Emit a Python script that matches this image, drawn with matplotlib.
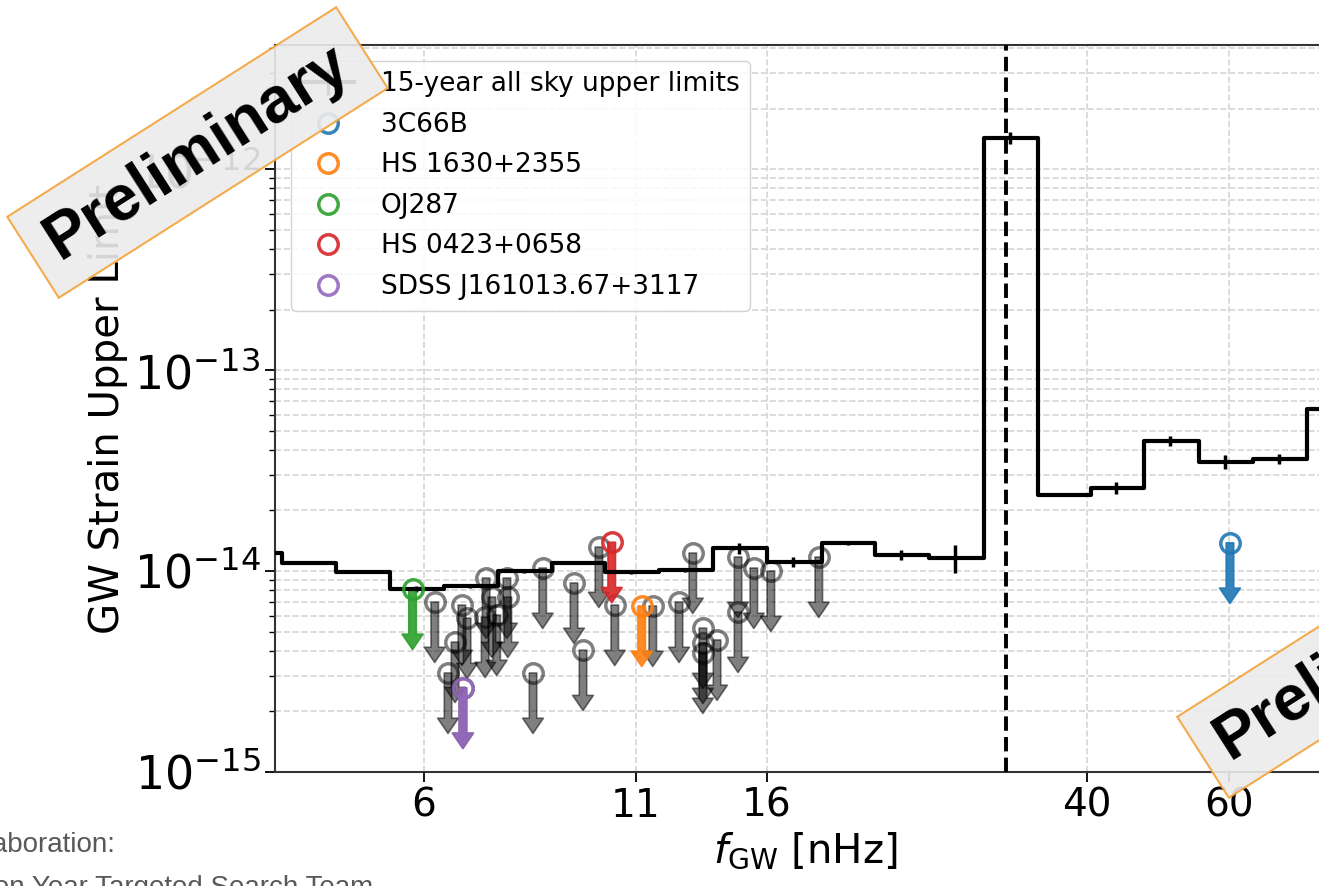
import numpy as np
import matplotlib.pyplot as plt
from matplotlib.patches import Rectangle
from matplotlib.transforms import IdentityTransform
from matplotlib.ticker import NullLocator

# all sky upper limit per frequency bin (bin centres, nHz)
bin_f = [3.69, 4.31, 5.03, 5.87, 6.84, 8.00, 9.32, 10.85, 12.66, 14.80, 17.27,
         20.16, 23.52, 27.44, 32.08, 37.37, 43.49, 50.76, 59.33, 69.23, 80.8, 94.3]
bin_h = [1.23e-14, 1.10e-14, 9.9e-15, 8.13e-15, 8.42e-15, 1.00e-14, 1.10e-14,
         9.9e-15, 1.01e-14, 1.30e-14, 1.11e-14, 1.38e-14, 1.20e-14, 1.16e-14,
         1.43e-12, 2.40e-14, 2.59e-14, 4.45e-14, 3.48e-14, 3.62e-14, 6.40e-14, 6.40e-14]
bin_err = [0, 0.02, 0.01, 0.035, 0.02, 0.02, 0.01, 0.02, 0.02, 0.06, 0.06,
           0.02, 0.06, 0.16, 0.07, 0.02, 0.07, 0.06, 0.08, 0.06, 0.06, 0.06]  # fraction of value

# targeted upper limits (grey)
gray_f = [6.19, 6.69, 6.79, 6.56, 6.43, 7.17, 7.61, 7.63, 7.15, 7.39, 7.29, 8.43, 8.20,
          9.22, 9.46, 9.90, 10.36, 11.55, 12.45, 12.95, 13.33, 13.33, 13.33, 13.88,
          14.74, 14.74, 15.42, 16.19, 18.57, 6.71]
gray_h = [7.01e-15, 6.77e-15, 5.83e-15, 4.43e-15, 3.11e-15, 9.23e-15, 9.23e-15, 7.42e-15,
          5.90e-15, 6.04e-15, 7.42e-15, 1.035e-14, 3.11e-15, 8.72e-15, 4.04e-15, 1.316e-14,
          6.77e-15, 6.70e-15, 7.01e-15, 1.229e-14, 5.20e-15, 4.38e-15, 3.91e-15, 4.54e-15,
          1.174e-14, 6.25e-15, 1.035e-14, 1.0e-14, 1.174e-14, 2.62e-15]

# named sources
src_names = ['3C66B', 'HS 1630+2355', 'OJ287', 'HS 0423+0658', 'SDSS J161013.67+3117']
src_f = [60.2, 11.19, 5.81, 10.27, 6.71]
src_h = [1.38e-14, 6.70e-15, 8.14e-15, 1.39e-14, 2.62e-15]
src_colors = ['tab:blue', 'tab:orange', 'tab:green', 'tab:red', 'tab:purple']

xtick_vals = [6, 11, 16, 40, 60]
f_year = 31.7  # 1/yr in nHz

fig = plt.figure(figsize=(13.19, 8.86), dpi=100)
ax = fig.add_axes([275 / 1319, 114 / 886, 1060 / 1319, 727 / 886])
ax.set_xscale('log')
ax.set_yscale('log')


def down_arrow(x, y, c, a):
    ax.annotate('', xy=(x, y / 2), xytext=(x, y),
                arrowprops=dict(arrowstyle='simple,head_length=0.55,head_width=0.75,tail_width=0.27',
                                mutation_scale=20, color=c, alpha=a, lw=1.2,
                                shrinkA=0, shrinkB=0))


# grey targeted limits
ax.plot(gray_f, gray_h, 'o', mfc='none', mec='k', alpha=0.5, ms=14, mew=2.5, zorder=2)
for x, y in zip(gray_f, gray_h):
    down_arrow(x, y, 'k', 0.5)

# all sky limits
eb = ax.errorbar(bin_f, bin_h, yerr=np.array(bin_err) * np.array(bin_h), fmt='-', color='k',
                 drawstyle='steps-mid', lw=3, elinewidth=2.5, capsize=0,
                 label='15-year all sky upper limits', zorder=3)

handles = [eb]
for name, x, y, c in zip(src_names, src_f, src_h, src_colors):
    h, = ax.plot([x], [y], 'o', mfc='none', mec=c, alpha=0.9, ms=14, mew=2.5, label=name, zorder=4)
    handles.append(h)
    down_arrow(x, y, c, 0.9)

ax.axvline(f_year, ls='--', color='k', lw=2.8, zorder=3)

ax.set_xlim(3.92, 81.3)
ax.set_ylim(1e-15, 4.14e-12)
ax.set_xticks(xtick_vals)
ax.set_xticklabels([str(v) for v in xtick_vals])
ax.xaxis.set_minor_locator(NullLocator())

ax.grid(True, which='both', axis='y', ls='--', color='#d6d6d6', lw=1.2)
ax.grid(True, which='major', axis='x', ls='--', color='#d6d6d6', lw=1.2)
ax.set_axisbelow(True)

ax.tick_params(which='major', length=7, width=1.3)
ax.tick_params(axis='x', labelsize=28)
ax.tick_params(axis='y', labelsize=33)
ax.tick_params(which='minor', length=4, width=1.0)
for s in ax.spines.values():
    s.set_color('#333333')
    s.set_linewidth(1.5)

ax.set_xlabel(r'$f_{\rm GW}$ [nHz]', fontsize=29)
ax.set_ylabel('GW Strain Upper Limit', fontsize=29)

ax.legend(handles=handles, loc='upper left', fontsize=19, labelspacing=0.55, handletextpad=1.0,
          borderaxespad=0.6, framealpha=0.85, edgecolor='#cccccc')

# "Preliminary" stamps (pixel positions on the slide)
for cx, cy in [(197.5, 733.5), (1367.5, 233.5)]:
    rect = Rectangle((cx - 195, cy - 48), 390, 96, angle=32.5, rotation_point='center',
                     facecolor='#ececec', edgecolor='#f5a33a', lw=1.5, alpha=0.9,
                     transform=IdentityTransform(), zorder=10)
    fig.add_artist(rect)
    fig.text(cx, cy, 'Preliminary', transform=IdentityTransform(), rotation=32.5,
             rotation_mode='anchor', ha='center', va='center', fontsize=46,
             fontweight='bold', family=['Liberation Sans', 'DejaVu Sans'], zorder=11)

# slide footer text, cut by the crop
fig.text(115, 34, 'NANOGrav Collaboration:', transform=IdentityTransform(), ha='right',
         fontsize=20, color='#595959', family=['Liberation Sans Narrow', 'Liberation Sans'])
fig.text(373, -9, 'Fifteen Year Targeted Search Team', transform=IdentityTransform(),
         ha='right', fontsize=20, color='#595959',
         family=['Liberation Sans Narrow', 'Liberation Sans'])

fig.savefig('out.png', dpi=100)
